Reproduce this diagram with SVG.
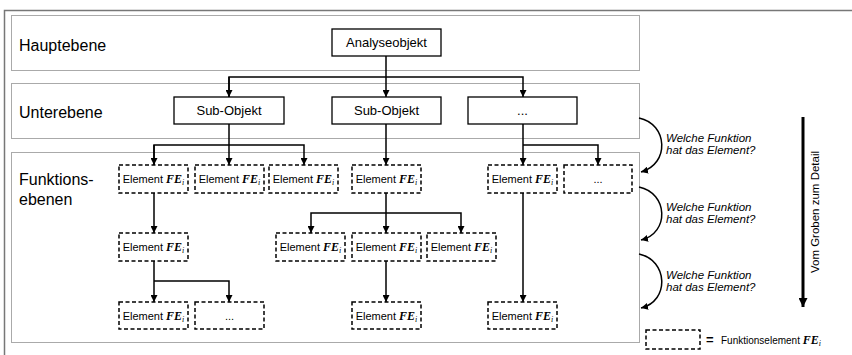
<svg xmlns="http://www.w3.org/2000/svg" width="852" height="355" viewBox="0 0 852 355">
  <style>
    .frame { fill: none; stroke: #777; stroke-width: 1.5; }
    .band { fill: none; stroke: #555; stroke-width: 1; stroke-dasharray: 1 1; }
    .solid { fill: #fff; stroke: #000; stroke-width: 1.3; }
    .fe { fill: #fff; stroke: #000; stroke-width: 1.5; stroke-dasharray: 4 2.5; }
    .lbl { font-family: "Liberation Sans", Arial, sans-serif; font-size: 16px; fill: #000; }
    .box { font-family: "Liberation Sans", Arial, sans-serif; font-size: 13px; fill: #000; text-anchor: middle; }
    .el { font-family: "Liberation Sans", Arial, sans-serif; font-size: 11px; fill: #000; text-anchor: middle; }
    .fesym { font-family: "Liberation Serif", "Times New Roman", serif; font-style: italic; font-weight: bold; font-size: 12px; }
    .sub { font-family: "Liberation Serif", "Times New Roman", serif; font-style: italic; font-size: 8px; }
    .q { font-family: "Liberation Sans", Arial, sans-serif; font-style: italic; font-size: 11.5px; fill: #000; }
    .side { font-family: "Liberation Sans", Arial, sans-serif; font-size: 11.5px; fill: #000; text-anchor: middle; }
    .conn { fill: none; stroke: #000; stroke-width: 1.5; }
  </style>
  <defs>
    <marker id="arr" viewBox="0 0 10 10" refX="10" refY="5" markerWidth="7" markerHeight="7" markerUnits="userSpaceOnUse" orient="auto">
      <path d="M0,0 L10,5 L0,10 Z" fill="#000"/>
    </marker>
    <marker id="arrBig" viewBox="0 0 10 10" refX="10" refY="5" markerWidth="10" markerHeight="9" markerUnits="userSpaceOnUse" orient="auto">
      <path d="M0,0 L10,5 L0,10 Z" fill="#000"/>
    </marker>
  </defs>

  <rect width="852" height="355" fill="#fff"/>

  <!-- outer frame -->
  <path class="frame" d="M852,10.5 H4.5 V355"/>

  <!-- level bands -->
  <g id="band-haupt">
    <rect class="band" x="11.5" y="15.5" width="628" height="55"/>
    <text class="lbl" x="19" y="51">Hauptebene</text>
  </g>
  <g id="band-unter">
    <rect class="band" x="11.5" y="83.5" width="628" height="55"/>
    <text class="lbl" x="19" y="118">Unterebene</text>
  </g>
  <g id="band-funktion">
    <rect class="band" x="11.5" y="152.5" width="628" height="190"/>
    <text class="lbl" x="19" y="185">Funktions-</text>
    <text class="lbl" x="19" y="205">ebenen</text>
  </g>

  <!-- connectors -->
  <g id="connectors">
    <path class="conn" d="M386,56 V97" marker-end="url(#arr)"/>
    <path class="conn" d="M229,97 V77 H523 V97" marker-end="url(#arr)"/>
    <path class="conn" d="M229,77 V97" marker-end="url(#arr)"/>

    <path class="conn" d="M229,124 V165" marker-end="url(#arr)"/>
    <path class="conn" d="M154,165 V145 H304 V165" marker-end="url(#arr)"/>
    <path class="conn" d="M154,145 V165" marker-end="url(#arr)"/>

    <path class="conn" d="M386,124 V165" marker-end="url(#arr)"/>

    <path class="conn" d="M523,124 V165" marker-end="url(#arr)"/>
    <path class="conn" d="M523,145 H598 V165" marker-end="url(#arr)"/>

    <path class="conn" d="M154,193 V233" marker-end="url(#arr)"/>
    <path class="conn" d="M154,261 V302" marker-end="url(#arr)"/>
    <path class="conn" d="M154,281 H229 V302" marker-end="url(#arr)"/>

    <path class="conn" d="M386,193 V233" marker-end="url(#arr)"/>
    <path class="conn" d="M386,213 H311 V233" marker-end="url(#arr)"/>
    <path class="conn" d="M386,213 H461 V233" marker-end="url(#arr)"/>
    <path class="conn" d="M386,261 V302" marker-end="url(#arr)"/>

    <path class="conn" d="M523,193 V302" marker-end="url(#arr)"/>

    <!-- level transitions -->
    <path class="conn" d="M639,118 C668,124 670,164 641,172" marker-end="url(#arr)"/>
    <path class="conn" d="M639,187 C668,193 670,233 641,240" marker-end="url(#arr)"/>
    <path class="conn" d="M639,254 C668,260 670,301 641,308" marker-end="url(#arr)"/>

    <path d="M803,117 V307" fill="none" stroke="#000" stroke-width="3" marker-end="url(#arrBig)"/>
  </g>

  <!-- main object -->
  <g id="analyseobjekt">
    <rect class="solid" x="332" y="29" width="109" height="27"/>
    <text class="box" x="386.5" y="47">Analyseobjekt</text>
  </g>

  <!-- sub objects -->
  <g id="subobjekt-1">
    <rect class="solid" x="174" y="97" width="110" height="27"/>
    <text class="box" x="229" y="115">Sub-Objekt</text>
  </g>
  <g id="subobjekt-2">
    <rect class="solid" x="332" y="97" width="109" height="27"/>
    <text class="box" x="386.5" y="115">Sub-Objekt</text>
  </g>
  <g id="subobjekt-3">
    <rect class="solid" x="468" y="97" width="109" height="27"/>
    <text class="box" x="522.5" y="115">...</text>
  </g>

  <!-- function elements, row 1 -->
  <g id="fe-1-1">
    <rect class="fe" x="119" y="165" width="69" height="28"/>
    <text class="el" x="153.5" y="183">Element <tspan class="fesym">FE</tspan><tspan class="sub" dy="2">i</tspan></text>
  </g>
  <g id="fe-1-2">
    <rect class="fe" x="195" y="165" width="69" height="28"/>
    <text class="el" x="229.5" y="183">Element <tspan class="fesym">FE</tspan><tspan class="sub" dy="2">i</tspan></text>
  </g>
  <g id="fe-1-3">
    <rect class="fe" x="269" y="165" width="69" height="28"/>
    <text class="el" x="303.5" y="183">Element <tspan class="fesym">FE</tspan><tspan class="sub" dy="2">i</tspan></text>
  </g>
  <g id="fe-1-4">
    <rect class="fe" x="352" y="165" width="69" height="28"/>
    <text class="el" x="386.5" y="183">Element <tspan class="fesym">FE</tspan><tspan class="sub" dy="2">i</tspan></text>
  </g>
  <g id="fe-1-5">
    <rect class="fe" x="488" y="165" width="69" height="28"/>
    <text class="el" x="522.5" y="183">Element <tspan class="fesym">FE</tspan><tspan class="sub" dy="2">i</tspan></text>
  </g>
  <g id="fe-1-6">
    <rect class="fe" x="564" y="165" width="68" height="28"/>
    <text class="el" x="598" y="183">...</text>
  </g>

  <!-- function elements, row 2 -->
  <g id="fe-2-1">
    <rect class="fe" x="119" y="233" width="69" height="28"/>
    <text class="el" x="153.5" y="251">Element <tspan class="fesym">FE</tspan><tspan class="sub" dy="2">i</tspan></text>
  </g>
  <g id="fe-2-2">
    <rect class="fe" x="276" y="233" width="69" height="28"/>
    <text class="el" x="310.5" y="251">Element <tspan class="fesym">FE</tspan><tspan class="sub" dy="2">i</tspan></text>
  </g>
  <g id="fe-2-3">
    <rect class="fe" x="352" y="233" width="69" height="28"/>
    <text class="el" x="386.5" y="251">Element <tspan class="fesym">FE</tspan><tspan class="sub" dy="2">i</tspan></text>
  </g>
  <g id="fe-2-4">
    <rect class="fe" x="427" y="233" width="69" height="28"/>
    <text class="el" x="461.5" y="251">Element <tspan class="fesym">FE</tspan><tspan class="sub" dy="2">i</tspan></text>
  </g>

  <!-- function elements, row 3 -->
  <g id="fe-3-1">
    <rect class="fe" x="119" y="302" width="69" height="27"/>
    <text class="el" x="153.5" y="320">Element <tspan class="fesym">FE</tspan><tspan class="sub" dy="2">i</tspan></text>
  </g>
  <g id="fe-3-2">
    <rect class="fe" x="195" y="302" width="69" height="27"/>
    <text class="el" x="229.5" y="320">...</text>
  </g>
  <g id="fe-3-3">
    <rect class="fe" x="352" y="302" width="69" height="27"/>
    <text class="el" x="386.5" y="320">Element <tspan class="fesym">FE</tspan><tspan class="sub" dy="2">i</tspan></text>
  </g>
  <g id="fe-3-4">
    <rect class="fe" x="488" y="302" width="69" height="27"/>
    <text class="el" x="522.5" y="320">Element <tspan class="fesym">FE</tspan><tspan class="sub" dy="2">i</tspan></text>
  </g>

  <!-- questions between levels -->
  <g id="question-1">
    <text class="q" x="666" y="142">Welche Funktion</text>
    <text class="q" x="666" y="154">hat das Element?</text>
  </g>
  <g id="question-2">
    <text class="q" x="666" y="211">Welche Funktion</text>
    <text class="q" x="666" y="223">hat das Element?</text>
  </g>
  <g id="question-3">
    <text class="q" x="666" y="279">Welche Funktion</text>
    <text class="q" x="666" y="291">hat das Element?</text>
  </g>

  <!-- direction label -->
  <g id="direction">
    <text class="side" transform="translate(819,212) rotate(-90)">Vom Groben zum Detail</text>
  </g>

  <!-- legend -->
  <g id="legend">
    <rect class="fe" x="646" y="330" width="54" height="19"/>
    <text x="706" y="344" font-family="Liberation Sans, Arial, sans-serif" font-size="13" font-weight="bold">=</text>
    <text x="721" y="344" font-family="Liberation Sans, Arial, sans-serif" font-size="10">Funktionselement <tspan class="fesym" font-size="11">FE</tspan><tspan class="sub" font-size="7" dy="1.5">i</tspan></text>
  </g>
</svg>
